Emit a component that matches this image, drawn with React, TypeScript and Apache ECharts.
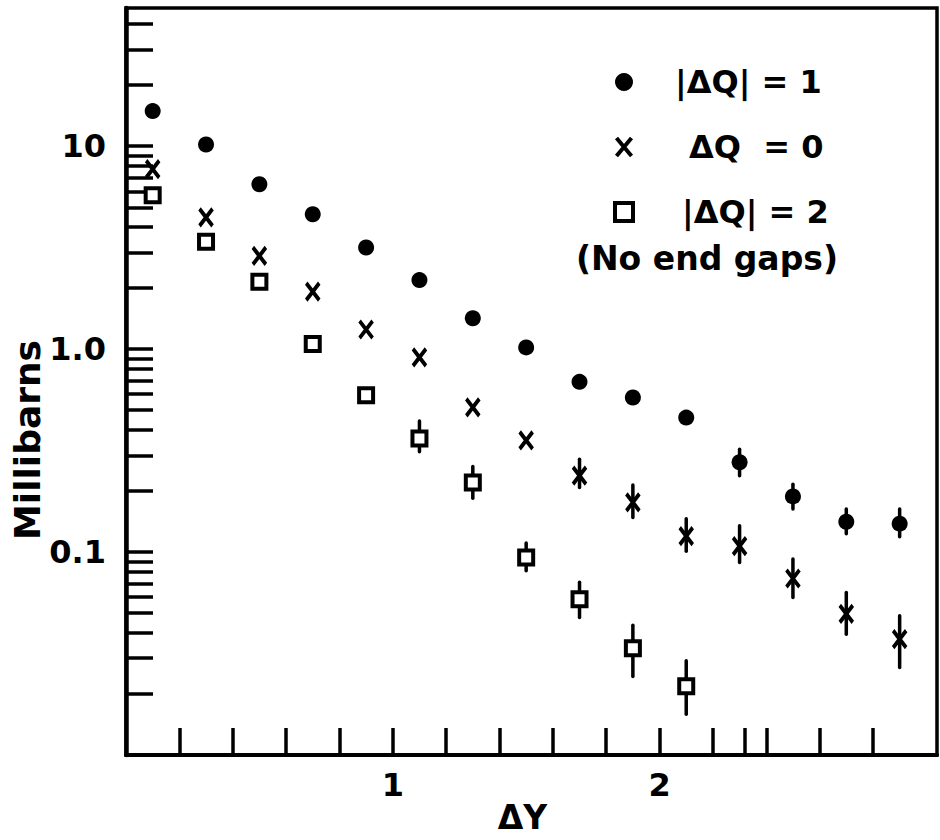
import React, { useEffect, useRef } from "react";
import * as echarts from "echarts";

// Rapidity gap ΔY (bin centres)
const deltaY = [0.1, 0.3, 0.5, 0.7, 0.9, 1.1, 1.3, 1.5, 1.7, 1.9, 2.1, 2.3, 2.5, 2.7, 2.9];

// |ΔQ| = 1 (millibarns) with error bar limits where drawn
const absDQ1 = [14.9, 10.2, 6.5, 4.62, 3.17, 2.19, 1.42, 1.02, 0.69, 0.578, 0.46, 0.277, 0.188, 0.141, 0.138];
const absDQ1Low = [null, null, null, null, null, null, null, null, null, null, null, 0.238, 0.163, 0.123, 0.119];
const absDQ1High = [null, null, null, null, null, null, null, null, null, null, null, 0.321, 0.216, 0.163, 0.163];

// ΔQ = 0
const dQ0 = [7.71, 4.46, 2.88, 1.92, 1.25, 0.91, 0.516, 0.355, 0.238, 0.176, 0.12, 0.107, 0.0741, 0.0496, 0.0372];
const dQ0Low = [null, null, null, null, null, null, null, null, 0.208, 0.148, 0.101, 0.0889, 0.0598, 0.0394, 0.027];
const dQ0High = [null, null, null, null, null, null, null, null, 0.287, 0.214, 0.146, 0.135, 0.0925, 0.0632, 0.0485];

// |ΔQ| = 2 (first eleven bins only)
const absDQ2 = [5.74, 3.38, 2.15, 1.06, 0.593, 0.363, 0.22, 0.094, 0.0586, 0.0336, 0.0218];
const absDQ2Low = [null, null, null, null, null, 0.312, 0.184, 0.081, 0.0476, 0.0244, 0.0159];
const absDQ2High = [null, null, null, null, null, 0.443, 0.264, 0.111, 0.071, 0.0436, 0.0291];

// Axis ticks and labels
const yTickValues = [
  0.02, 0.03, 0.04, 0.05, 0.06, 0.07, 0.08, 0.09,
  0.1, 0.2, 0.3, 0.4, 0.5, 0.6, 0.7, 0.8, 0.9,
  1, 2, 3, 4, 5, 6, 7, 8, 9,
  10, 20, 30, 40,
];
const yLabelValues = [0.1, 1, 10];
const yLabelTexts = ["0.1", "1.0", "10"];
const xTickValues = [0.2, 0.4, 0.6, 0.8, 1.0, 1.2, 1.4, 1.6, 1.8, 2.0, 2.2, 2.32, 2.4, 2.6, 2.8];
const xLabelValues = [1, 2];

const seriesNames = ["|ΔQ| = 1", "ΔQ  = 0", "|ΔQ| = 2"];

const FONT = '"DejaVu Sans", "Noto Sans", sans-serif';
const CROSS = "path://M0,0L10,12M10,0L0,12";

function points(values: number[]) {
  return values.map((v, i) => [deltaY[i], v]);
}

function errorBars(low: (number | null)[], high: (number | null)[]) {
  const out: number[][] = [];
  low.forEach((lo, i) => {
    const hi = high[i];
    if (lo != null && hi != null) out.push([deltaY[i], lo, hi]);
  });
  return out;
}

function errorSeries(data: number[][]) {
  return {
    type: "custom",
    z: 1,
    silent: true,
    encode: { x: 0, y: [1, 2] },
    data,
    renderItem: (_params: any, api: any) => {
      const x = api.value(0);
      const p1 = api.coord([x, api.value(1)]);
      const p2 = api.coord([x, api.value(2)]);
      return {
        type: "line",
        shape: { x1: p1[0], y1: p1[1], x2: p2[0], y2: p2[1] },
        style: { stroke: "#000", lineWidth: 3.5, lineCap: "round" },
      };
    },
  };
}

export default function App() {
  const ref = useRef<HTMLDivElement>(null);

  useEffect(() => {
    if (!ref.current) return;
    const chart = echarts.init(ref.current, undefined, { renderer: "svg" });

    const labelText = (v: number) => {
      const i = yLabelValues.findIndex((t) => Math.abs(v - t) / t < 1e-6);
      return i >= 0 ? yLabelTexts[i] : "";
    };

    chart.setOption({
      animation: false,
      backgroundColor: "#fff",
      grid: {
        left: 126,
        top: 8,
        right: 3,
        bottom: 85,
        show: true,
        borderColor: "#000",
        borderWidth: 3.5,
        outerBoundsMode: "none",
      },
      legend: {
        orient: "vertical",
        left: 608,
        top: 61,
        itemWidth: 18,
        itemHeight: 18,
        itemGap: 33,
        selectedMode: false,
        textStyle: {
          fontFamily: FONT,
          fontSize: 32,
          fontWeight: "bold",
          color: "#000",
          padding: [0, 0, 0, 37],
        },
        data: [
          { name: seriesNames[0], icon: "circle", itemStyle: { color: "#000", opacity: 1 } },
          {
            name: seriesNames[1],
            icon: CROSS,
            itemStyle: { color: "none", borderColor: "#000", borderWidth: 4, opacity: 1 },
            textStyle: { padding: [0, 0, 0, 51] },
          },
          {
            name: seriesNames[2],
            icon: "rect",
            itemStyle: { color: "#fff", borderColor: "#000", borderWidth: 4, opacity: 1 },
            textStyle: { padding: [0, 0, 0, 44] },
          },
        ],
      },
      xAxis: {
        type: "value",
        min: 0,
        max: 3.04,
        name: "ΔY",
        nameLocation: "middle",
        nameGap: 46,
        nameMoveOverlap: false,
        nameTextStyle: {
          fontFamily: FONT,
          fontSize: 33,
          fontWeight: "bold",
          color: "#000",
          padding: [0, 18, 0, 0],
        },
        axisLine: { show: true, onZero: false, lineStyle: { color: "#000", width: 4 } },
        axisTick: {
          show: true,
          inside: true,
          length: 27,
          customValues: xTickValues,
          lineStyle: { color: "#000", width: 3.5 },
        },
        axisLabel: {
          customValues: xLabelValues,
          formatter: (v: number) => String(v),
          margin: 14,
          fontFamily: FONT,
          fontSize: 32,
          fontWeight: "bold",
          color: "#000",
        },
        splitLine: { show: false },
      },
      yAxis: {
        type: "log",
        logBase: 10,
        min: 0.01,
        max: 48,
        axisLine: { show: true, onZero: false, lineStyle: { color: "#000", width: 4.5 } },
        axisTick: {
          show: true,
          inside: true,
          length: 27,
          customValues: yTickValues,
          lineStyle: { color: "#000", width: 3.5 },
        },
        axisLabel: {
          customValues: yLabelValues,
          formatter: labelText,
          margin: 20,
          fontFamily: FONT,
          fontSize: 32,
          fontWeight: "bold",
          color: "#000",
        },
        splitLine: { show: false },
        minorTick: { show: false },
      },
      graphic: [
        {
          type: "text",
          x: 27,
          y: 440,
          rotation: Math.PI / 2,
          style: {
            text: "Millibarns",
            fill: "#000",
            fontFamily: FONT,
            fontSize: 36,
            fontWeight: "bold",
            align: "center",
            verticalAlign: "middle",
          },
        },
        {
          type: "text",
          x: 838,
          y: 258,
          style: {
            text: "(No end gaps)",
            fill: "#000",
            fontFamily: FONT,
            fontSize: 33,
            fontWeight: "bold",
            align: "right",
            verticalAlign: "middle",
          },
        },
      ],
      series: [
        errorSeries(errorBars(absDQ1Low, absDQ1High)),
        errorSeries(errorBars(dQ0Low, dQ0High)),
        errorSeries(errorBars(absDQ2Low, absDQ2High)),
        {
          name: seriesNames[0],
          type: "scatter",
          z: 3,
          symbol: "circle",
          symbolSize: 16,
          itemStyle: { color: "#000", opacity: 1 },
          data: points(absDQ1),
        },
        {
          name: seriesNames[1],
          type: "scatter",
          z: 3,
          symbol: CROSS,
          symbolSize: [13, 17],
          itemStyle: { color: "none", borderColor: "#000", borderWidth: 4, opacity: 1 },
          data: points(dQ0),
        },
        {
          name: seriesNames[2],
          type: "scatter",
          z: 3,
          symbol: "rect",
          symbolSize: 14,
          itemStyle: { color: "#fff", borderColor: "#000", borderWidth: 4, opacity: 1 },
          data: points(absDQ2),
        },
      ],
    });

    return () => chart.dispose();
  }, []);

  return (
    <div
      ref={ref}
      style={{ position: "fixed", left: 0, top: 0, width: 940, height: 840, background: "#fff" }}
    />
  );
}
